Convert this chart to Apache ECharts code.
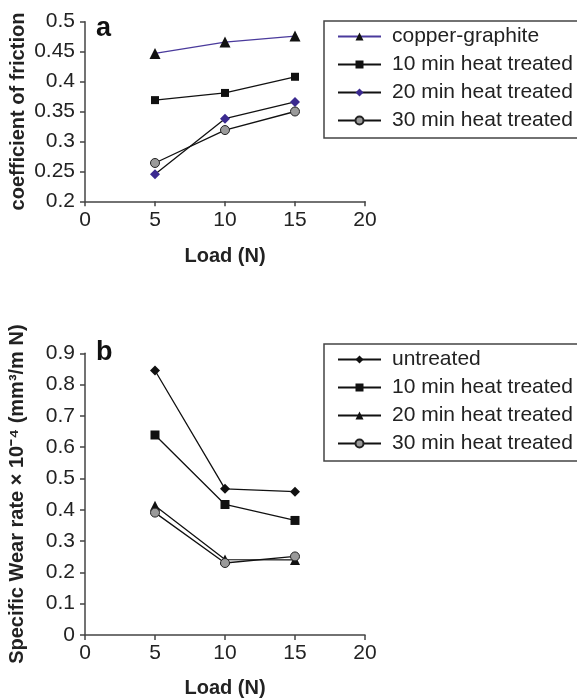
<!DOCTYPE html>
<html><head><meta charset="utf-8">
<script src="https://cdn.jsdelivr.net/npm/echarts/dist/echarts.min.js"></script>
<style>
html,body{margin:0;padding:0;background:#fff;}
#a{position:absolute;left:0;top:0;width:577px;height:300px;}
#b{position:absolute;left:0;top:300px;width:577px;height:400px;}
</style>
</head><body>
<div id="a"></div><div id="b"></div>
<script>
// ---- data ----
const loads = [5, 10, 15];
const xTicks = [0, 5, 10, 15, 20];

// panel a: coefficient of friction
const namesA = ['copper-graphite', '10 min heat treated', '20 min heat treated', '30 min heat treated'];
const copperGraphiteA = [0.447, 0.466, 0.476];
const heat10A = [0.369, 0.381, 0.408];
const heat20A = [0.245, 0.338, 0.366];
const heat30A = [0.264, 0.319, 0.350];

// panel b: specific wear rate
const namesB = ['untreated', '10 min heat treated', '20 min heat treated', '30 min heat treated'];
const untreatedB = [0.845, 0.467, 0.458];
const heat10B = [0.639, 0.417, 0.366];
const heat20B = [0.413, 0.241, 0.240];
const heat30B = [0.391, 0.230, 0.251];

const FONT = "'Liberation Sans', Arial, sans-serif";
const AX = '#444';
const TXT = '#222';

function pairs(vals) { return loads.map((x, i) => [x, vals[i]]); }

function xAxis(gap) {
  return {
    type: 'value', min: xTicks[0], max: xTicks[xTicks.length - 1], interval: 5,
    name: 'Load (N)', nameLocation: 'middle', nameGap: gap,
    nameTextStyle: { fontFamily: FONT, fontSize: 20, fontWeight: 'bold', color: TXT },
    axisLine: { show: true, onZero: false, lineStyle: { color: AX, width: 1.5 } },
    axisTick: { show: true, length: 5, inside: false, lineStyle: { color: AX, width: 1.5 } },
    axisLabel: { fontFamily: FONT, fontSize: 21, color: TXT, margin: 8 },
    splitLine: { show: false }
  };
}
function yAxis(name, min, max, interval, gap) {
  return {
    type: 'value', min: min, max: max, interval: interval,
    name: name, nameLocation: 'middle', nameRotate: 90, nameGap: gap,
    nameTextStyle: { fontFamily: FONT, fontSize: 20, fontWeight: 'bold', color: TXT },
    axisLine: { show: true, onZero: false, lineStyle: { color: AX, width: 1.5 } },
    axisTick: { show: true, length: 5, inside: false, lineStyle: { color: AX, width: 1.5 } },
    axisLabel: { fontFamily: FONT, fontSize: 21, color: TXT, margin: 10 },
    splitLine: { show: false }
  };
}
function legend(names, top) {
  return {
    data: names, orient: 'vertical', left: 324, top: top,
    borderColor: AX, borderWidth: 1.5, backgroundColor: '#fff',
    padding: [5, 20, 7, 13], itemGap: 7, itemWidth: 43, itemHeight: 10,
    textStyle: { fontFamily: FONT, fontSize: 21, color: TXT, lineHeight: 20, padding: [0, 0, 0, 6] },
    selectedMode: false
  };
}
function line(name, vals, symbol, size, lineColor, fill, border) {
  return {
    type: 'line', name: name, data: pairs(vals), symbol: symbol, symbolSize: size,
    showAllSymbol: true, animation: false,
    lineStyle: { color: lineColor, width: 1.3 },
    itemStyle: { color: fill, borderColor: border || fill, borderWidth: border ? 1 : 0 },
    emphasis: { disabled: true }
  };
}

const chartA = echarts.init(document.getElementById('a'), null, { renderer: 'canvas' });
chartA.setOption({
  backgroundColor: '#fff',
  animation: false,
  grid: { left: 85, width: 280, top: 21.7, bottom: 98.7, containLabel: false, outerBoundsMode: 'none' },
  xAxis: xAxis(45),
  yAxis: yAxis('coefficient of friction', 0.2, 0.5, 0.05, 57),
  legend: legend(namesA, 21),
  graphic: [{ type: 'text', left: 96, top: 15, style: { text: 'a', fontFamily: FONT, fontSize: 27, fontWeight: 'bold', fill: '#111' } }],
  series: [
    line(namesA[0], copperGraphiteA, 'triangle', 11, '#4a3a9c', '#111'),
    line(namesA[1], heat10A, 'rect', 8, '#111', '#111'),
    line(namesA[2], heat20A, 'diamond', 10, '#111', '#3b2a90'),
    line(namesA[3], heat30A, 'circle', 9, '#111', '#9a9a9a', '#222')
  ]
});

const chartB = echarts.init(document.getElementById('b'), null, { renderer: 'canvas' });
chartB.setOption({
  backgroundColor: '#fff',
  animation: false,
  grid: { left: 85, width: 280, top: 53.3, bottom: 65, containLabel: false, outerBoundsMode: 'none' },
  xAxis: xAxis(43),
  yAxis: yAxis('Specific Wear rate \u00D7 10\u207B\u2074 (mm\u00B3/m N)', 0, 0.9, 0.1, 58),
  legend: legend(namesB, 44),
  graphic: [{ type: 'text', left: 96, top: 39, style: { text: 'b', fontFamily: FONT, fontSize: 27, fontWeight: 'bold', fill: '#111' } }],
  series: [
    line(namesB[0], untreatedB, 'diamond', 10, '#111', '#111'),
    line(namesB[1], heat10B, 'rect', 9, '#111', '#111'),
    line(namesB[2], heat20B, 'triangle', 10, '#111', '#111'),
    line(namesB[3], heat30B, 'circle', 9, '#111', '#9a9a9a', '#222')
  ]
});
</script>
</body></html>
